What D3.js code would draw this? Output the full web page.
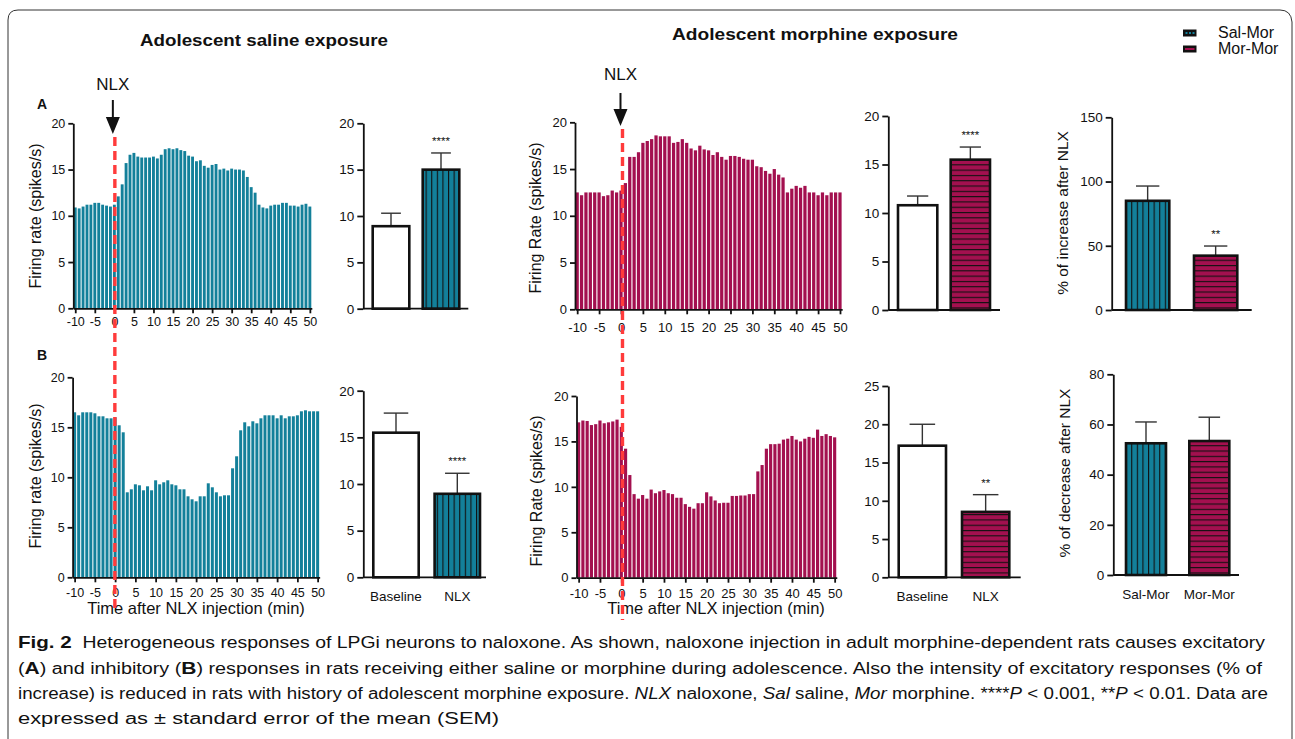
<!DOCTYPE html>
<html><head><meta charset="utf-8">
<script src="https://cdn.jsdelivr.net/npm/d3@7"></script>
<style>
body{margin:0;background:#fff}
svg{display:block}
text{font-family:"Liberation Sans",Arial,sans-serif;fill:#111}
</style>
</head><body>
<svg id="c" width="1295" height="739"></svg>
<script>
// ---------------- DATA ----------------
const minutes = [-10,-9,-8,-7,-6,-5,-4,-3,-2,-1,0,1,2,3,4,5,6,7,8,9,10,11,12,13,14,15,16,17,18,19,20,21,22,23,24,25,26,27,28,29,30,31,32,33,34,35,36,37,38,39,40,41,42,43,44,45,46,47,48,49,50];
const minuteTicks = [-10,-5,0,5,10,15,20,25,30,35,40,45,50];

// A: excitatory responses (firing rate, spikes/s)
const salExcite = [10.9,10.8,11.0,11.2,11.2,11.4,11.4,11.2,11.1,11.0,11.2,12.1,13.4,15.7,16.6,16.8,16.4,16.3,16.3,16.3,16.4,16.2,16.6,17.2,17.3,17.2,17.3,17.1,17.0,16.5,16.4,15.9,16.0,15.4,15.2,15.5,15.6,15.0,15.1,14.9,15.1,15.0,15.0,14.9,14.2,13.1,12.5,11.2,10.9,10.8,11.1,11.2,11.2,11.4,11.4,11.1,11.1,11.0,11.2,11.3,11.0];
const morExcite = [12.5,12.2,12.5,12.5,12.5,12.5,12.1,12.2,12.7,12.5,12.7,13.5,16.3,16.3,16.8,17.8,18.0,18.2,18.6,18.5,18.5,18.5,17.8,17.9,18.2,17.8,17.2,17.0,17.5,17.1,17.0,16.5,16.8,16.3,16.0,16.4,16.4,16.3,16.1,16.0,16.0,15.3,15.2,14.8,14.5,15.0,14.4,14.1,12.5,12.9,13.2,13.0,13.2,12.5,12.5,12.2,12.5,12.2,12.5,12.5,12.5];
// B: inhibitory responses
const salInhib = [16.5,16.2,16.5,16.5,16.5,16.4,16.1,16.1,15.9,15.9,16.0,15.2,14.5,8.5,8.8,9.3,9.2,8.7,9.1,8.7,9.7,9.3,9.5,9.7,9.3,9.2,8.8,8.8,8.1,7.8,7.6,8.1,8.1,9.4,9.0,8.5,8.1,8.2,8.2,10.9,12.1,14.7,15.5,15.1,15.6,15.4,15.9,16.2,16.2,16.2,15.9,16.2,15.9,16.1,16.1,16.2,16.6,16.7,16.6,16.6,16.6];
const morInhib = [17.1,17.3,17.25,16.8,16.9,17.3,17.0,17.1,17.2,17.4,16.6,14.2,11.3,9.2,8.7,9.1,8.7,9.7,9.3,9.5,9.65,9.3,9.2,8.8,8.8,8.1,7.8,7.6,8.2,8.2,9.4,8.95,8.5,8.2,8.25,8.25,9.0,9.0,9.05,9.05,9.2,9.2,11.7,12.4,14.2,14.7,14.7,14.75,15.2,15.3,15.6,15.2,15.0,15.3,15.5,15.4,16.3,15.6,15.8,15.6,15.45];

// summary bars
const condCats = ["Baseline","NLX"];
const groupCats = ["Sal-Mor","Mor-Mor"];
const aSalMean = [8.9, 15.0],  aSalSem = [1.4, 1.8];
const aMorMean = [10.8, 15.5], aMorSem = [0.95, 1.3];
const bSalMean = [15.5, 8.95], bSalSem = [2.1, 2.2];
const bMorMean = [17.2, 8.55], bMorSem = [2.8, 2.25];
const incMean = [85, 42.3], incSem = [11.5, 7.5];
const decMean = [52.5, 53.4], decSem = [8.5, 9.5];
const aSalTicks = [0,5,10,15,20], aMorTicks = [0,5,10,15,20];
const bSalTicks = [0,5,10,15,20], bMorTicks = [0,5,10,15,20,25];
const incTicks = [0,50,100,150], decTicks = [0,20,40,60,80];
const rateTicks = [0,5,10,15,20];

// ---------------- STYLE ----------------
const TEAL = "#13809a", MAG = "#a3104f", RED = "#ff3b3b";
const svg = d3.select("#c");
const defs = svg.append("defs");
const pT = defs.append("pattern").attr("id","pTeal").attr("patternUnits","userSpaceOnUse").attr("width",5.6).attr("height",10);
pT.append("rect").attr("width",5.6).attr("height",10).attr("fill",TEAL);
pT.append("rect").attr("x",0).attr("width",1.1).attr("height",10).attr("fill","#111");
const pM = defs.append("pattern").attr("id","pMag").attr("patternUnits","userSpaceOnUse").attr("width",10).attr("height",5.3);
pM.append("rect").attr("width",10).attr("height",5.3).attr("fill",MAG);
pM.append("rect").attr("y",0).attr("width",10).attr("height",1.1).attr("fill","#111");

// frame
svg.append("path")
  .attr("d","M8,739 L8,20 Q8,10 18,10 L1280,10 Q1291,10 1292,22 L1292,739")
  .attr("fill","none").attr("stroke","#333").attr("stroke-width",1);

function styleAxis(g){
  g.selectAll("path,line").attr("stroke","#111").attr("stroke-width",1.8);
  g.selectAll("text").attr("fill","#111");
}

// ---------------- HISTOGRAMS ----------------
function hist(o){
  const g = svg.append("g");
  const x = d3.scaleLinear().domain([-10.5,50.5]).range([o.x0, o.x0 + 61*o.step]);
  const y = d3.scaleLinear().domain([0,20]).range([o.y0, o.y20]);
  const bw = o.step*0.74;
  g.selectAll("rect.bar").data(o.data).join("rect")
    .attr("x",(d,i)=>x(minutes[i]) - bw/2)
    .attr("width",bw)
    .attr("y",d=>y(d))
    .attr("height",d=>y(0)-y(d))
    .attr("fill",o.color);
  const ya = g.append("g").attr("transform",`translate(${o.x0},0)`)
    .call(d3.axisLeft(y).tickValues(rateTicks).tickSize(5).tickSizeOuter(0).tickFormat(d=>String(d)));
  ya.selectAll("text").attr("font-size",o.fs);
  styleAxis(ya);
  const xa = g.append("g").attr("transform",`translate(0,${o.y0})`)
    .call(d3.axisBottom(x).tickValues(minuteTicks).tickSize(5).tickSizeOuter(0).tickFormat(d=>String(d)));
  xa.selectAll("text").attr("font-size",o.fs).attr("y",o.lblOff).attr("dy","0.35em");
  styleAxis(xa);
  g.append("text").attr("transform",`translate(${o.tx},${o.ty}) rotate(-90)`)
    .attr("text-anchor","middle").attr("font-size",16).text(o.title);
  if(o.xlabel){
    g.append("text").attr("x",o.xlx).attr("y",o.xly).attr("text-anchor","middle")
      .attr("font-size",16.5).text("Time after NLX injection (min)");
  }
  return x;
}

const xA1 = hist({data:salExcite,color:TEAL,x0:73.3,step:3.91,y0:308.3,y20:123.3,fs:12.5,lblOff:13.5,title:"Firing rate (spikes/s)",tx:41,ty:216});
const xA2 = hist({data:morExcite,color:MAG,x0:575.0,step:4.38,y0:309.3,y20:122.3,fs:13,lblOff:18.5,title:"Firing Rate (spikes/s)",tx:541,ty:218});
const xB1 = hist({data:salInhib,color:TEAL,x0:72.6,step:4.05,y0:577.3,y20:377.3,fs:12.5,lblOff:15.5,title:"Firing rate (spikes/s)",tx:41,ty:476,xlabel:true,xlx:196,xly:614});
const xB2 = hist({data:morInhib,color:MAG,x0:576.5,step:4.267,y0:577.7,y20:396,fs:13,lblOff:15.5,title:"Firing Rate (spikes/s)",tx:542,ty:491,xlabel:true,xlx:716,xly:614});

// ---------------- SUMMARY BARS ----------------
function bars(o){
  const g = svg.append("g");
  const W = o.b - o.a;
  const pi = (W - 2*o.w)/(W - o.w);
  const x = d3.scaleBand().domain(o.cats).range([o.a,o.b]).paddingInner(pi).paddingOuter(0);
  const y = d3.scaleLinear().domain([0,o.max]).range([o.y0,o.yTop]);
  const ya = g.append("g").attr("transform",`translate(${o.axisX},0)`)
    .call(d3.axisLeft(y).tickValues(o.ticks).tickSize(6).tickSizeOuter(0));
  ya.selectAll("text").attr("font-size",13.5);
  styleAxis(ya);
  o.cats.forEach((c,i)=>{
    const cx = x(c)+x.bandwidth()/2;
    const cap = x.bandwidth()*0.27;
    g.append("line").attr("x1",cx).attr("x2",cx).attr("y1",y(o.mean[i])).attr("y2",y(o.mean[i]+o.sem[i]))
      .attr("stroke","#333").attr("stroke-width",1.4);
    g.append("line").attr("x1",cx-cap).attr("x2",cx+cap).attr("y1",y(o.mean[i]+o.sem[i])).attr("y2",y(o.mean[i]+o.sem[i]))
      .attr("stroke","#333").attr("stroke-width",1.4);
  });
  g.selectAll("rect.b").data(o.cats).join("rect")
    .attr("x",d=>x(d)).attr("width",x.bandwidth())
    .attr("y",(d,i)=>y(o.mean[i])).attr("height",(d,i)=>y(0)-y(o.mean[i]))
    .attr("fill",(d,i)=>o.fills[i]).attr("stroke","#111").attr("stroke-width",2.6);
  g.append("line").attr("x1",o.axisX).attr("x2",o.axisEnd).attr("y1",o.y0).attr("y2",o.y0)
    .attr("stroke","#111").attr("stroke-width",1.8);
  if(o.star){
    const i = o.star[0];
    const cx = x(o.cats[i])+x.bandwidth()/2;
    g.append("text").attr("x",cx).attr("y",y(o.mean[i]+o.sem[i])-8).attr("text-anchor","middle")
      .attr("font-size",11.5).attr("fill","#333").text(o.star[1]);
  }
  if(o.labels){
    o.cats.forEach(c=>{
      g.append("text").attr("x",x(c)+x.bandwidth()/2).attr("y",o.y0+24).attr("text-anchor","middle")
        .attr("font-size",13.5).text(c);
    });
  }
  if(o.title){
    g.append("text").attr("transform",`translate(${o.tx},${o.ty}) rotate(-90)`)
      .attr("text-anchor","middle").attr("font-size",15.5).text(o.title);
  }
}

bars({cats:condCats,mean:aSalMean,sem:aSalSem,fills:["#fff","url(#pTeal)"],a:372.7,b:459.3,w:36.6,axisX:363.3,axisEnd:468.3,y0:308.7,yTop:123.3,max:20,ticks:aSalTicks,star:[1,"****"]});
bars({cats:condCats,mean:aMorMean,sem:aMorSem,fills:["#fff","url(#pMag)"],a:898,b:990,w:39.3,axisX:888.3,axisEnd:1000,y0:310,yTop:116,max:20,ticks:aMorTicks,star:[1,"****"]});
bars({cats:groupCats,mean:incMean,sem:incSem,fills:["url(#pTeal)","url(#pMag)"],a:1126,b:1237.3,w:43.3,axisX:1111.7,axisEnd:1251.7,y0:310,yTop:117.3,max:150,ticks:incTicks,star:[1,"**"],title:"% of increase after NLX",tx:1068,ty:213});
bars({cats:condCats,mean:bSalMean,sem:bSalSem,fills:["#fff","url(#pTeal)"],a:373.3,b:480,w:45.4,axisX:363.3,axisEnd:486,y0:577.3,yTop:390.7,max:20,ticks:bSalTicks,star:[1,"****"],labels:true});
bars({cats:condCats,mean:bMorMean,sem:bMorSem,fills:["#fff","url(#pMag)"],a:898.7,b:1009.3,w:47.3,axisX:888.3,axisEnd:1020.7,y0:577.3,yTop:386,max:25,ticks:bMorTicks,star:[1,"**"],labels:true});
bars({cats:groupCats,mean:decMean,sem:decSem,fills:["url(#pTeal)","url(#pMag)"],a:1126,b:1229.3,w:40,axisX:1113.3,axisEnd:1239,y0:575,yTop:374.3,max:80,ticks:decTicks,title:"% of decrease after NLX",tx:1070,ty:473,labels:true});

// ---------------- NLX MARKERS ----------------
function marker(x, yText, yShaft, yHead, yTip, yLineEnd){
  svg.append("text").attr("x",x).attr("y",yText).attr("text-anchor","middle").attr("font-size",17).text("NLX");
  svg.append("line").attr("x1",x).attr("x2",x).attr("y1",yShaft).attr("y2",yHead+2).attr("stroke","#111").attr("stroke-width",2);
  svg.append("path").attr("d",`M${x-7},${yHead} L${x+7},${yHead} L${x},${yTip} Z`).attr("fill","#111");
  svg.append("line").attr("x1",x+2).attr("x2",x+2).attr("y1",yTip+3).attr("y2",yLineEnd)
    .attr("stroke",RED).attr("stroke-width",3.4).attr("stroke-dasharray","9,5");
}
marker(xA1(0)-1.5, 90, 100, 117, 134, 612);
marker(xA2(0)-0.5, 80, 93, 109, 126, 620);

// ---------------- TITLES, LEGEND ----------------
svg.append("text").attr("x",264).attr("y",46).attr("text-anchor","middle").attr("font-weight","bold")
  .attr("font-size",17).attr("textLength",248).attr("lengthAdjust","spacingAndGlyphs").text("Adolescent saline exposure");
svg.append("text").attr("x",815).attr("y",40).attr("text-anchor","middle").attr("font-weight","bold")
  .attr("font-size",17).attr("textLength",286).attr("lengthAdjust","spacingAndGlyphs").text("Adolescent morphine exposure");
svg.append("text").attr("x",37).attr("y",109).attr("font-weight","bold").attr("font-size",14).text("A");
svg.append("text").attr("x",37).attr("y",360).attr("font-weight","bold").attr("font-size",14).text("B");

const leg = svg.append("g");
leg.append("rect").attr("x",1183).attr("y",29.5).attr("width",13.5).attr("height",7).attr("fill","#111");
[1185.5,1189,1192.5].forEach(cx=>leg.append("rect").attr("x",cx).attr("y",32).attr("width",2).attr("height",2).attr("fill",TEAL));
leg.append("rect").attr("x",1183).attr("y",45.5).attr("width",13.5).attr("height",7).attr("fill","#111");
leg.append("rect").attr("x",1185).attr("y",48).attr("width",9.5).attr("height",2).attr("fill",MAG);
leg.append("text").attr("x",1218).attr("y",38).attr("font-size",16).text(groupCats[0]);
leg.append("text").attr("x",1218).attr("y",54).attr("font-size",16).text(groupCats[1]);

// ---------------- CAPTION ----------------
const capLines = [
  {y:648, len:1247, parts:[["Fig. 2","b"],["  Heterogeneous responses of LPGi neurons to naloxone. As shown, naloxone injection in adult morphine-dependent rats causes excitatory",""]]},
  {y:674, len:1244, parts:[["(",""],["A","b"],[") and inhibitory (",""],["B","b"],[") responses in rats receiving either saline or morphine during adolescence. Also the intensity of excitatory responses (% of",""]]},
  {y:699, len:1250, parts:[["increase) is reduced in rats with history of adolescent morphine exposure. ",""],["NLX","i"],[" naloxone, ",""],["Sal","i"],[" saline, ",""],["Mor","i"],[" morphine. ****",""],["P","i"],[" < 0.001, **",""],["P","i"],[" < 0.01. Data are",""]]},
  {y:724, len:481, parts:[["expressed as ± standard error of the mean (SEM)",""]]}
];
capLines.forEach(l=>{
  const t = svg.append("text").attr("x",18).attr("y",l.y).attr("font-size",16)
    .attr("font-family","'Open Sans','Noto Sans',sans-serif")
    .attr("textLength",l.len).attr("lengthAdjust","spacingAndGlyphs")
    .attr("xml:space","preserve").style("white-space","pre");
  l.parts.forEach(p=>{
    const s = t.append("tspan").text(p[0]);
    if(p[1]==="b") s.attr("font-weight","bold").attr("font-size",17);
    if(p[1]==="i") s.attr("font-style","italic");
  });
});
</script>
</body></html>
